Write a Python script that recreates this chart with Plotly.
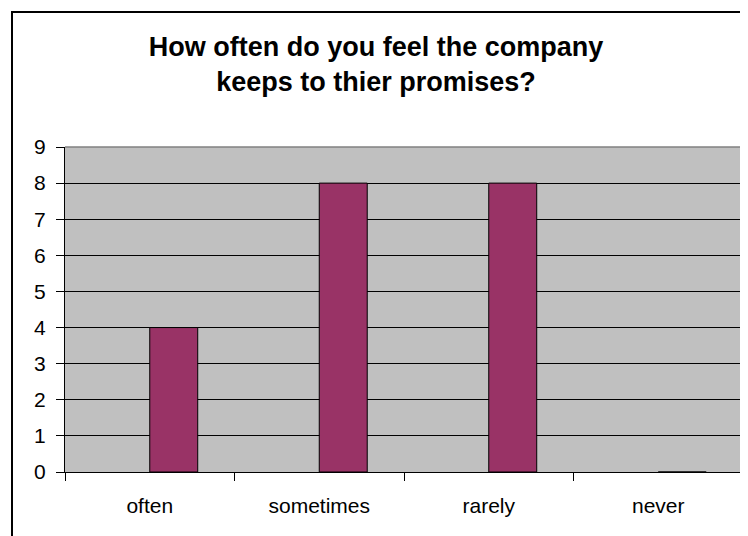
import plotly.graph_objects as go

categories = ["often", "sometimes", "rarely", "never"]
values = [4, 8, 8, 0]
y_ticks = list(range(0, 10))

# page body adds an 8px offset; figure sized to the visible area
OFF = 8
W, H = 748 - OFF, 536 - OFF
L, T = 65 - OFF, 147 - OFF
R = W - (743 - OFF)
B = H - (472 - OFF)
pw, ph = W - L - R, H - T - B

fig = go.Figure(go.Bar(
    x=categories, y=values,
    marker=dict(color="#993366", line=dict(color="black", width=1)),
    width=0.283, offset=0,
))

font = "Liberation Sans, Arial, sans-serif"
fig.update_layout(
    width=W, height=H,
    margin=dict(l=L, r=R, t=T, b=B),
    paper_bgcolor="white", plot_bgcolor="#C0C0C0",
    showlegend=False,
    title=dict(
        text="<b>How often do you feel the company<br>keeps to thier promises?</b>",
        font=dict(family=font, size=27, color="black"),
        x=(376 - OFF) / W, xanchor="center", xref="container",
        y=1 - 48 / H, yanchor="top", yref="container",
    ),
    xaxis=dict(
        type="category", tickson="boundaries", ticks="outside", ticklen=8,
        tickcolor="black", showline=True, linecolor="black", linewidth=1,
        showgrid=False, tickfont=dict(family=font, size=21, color="black"),
        ticklabelstandoff=15,
    ),
    yaxis=dict(
        range=[0, 9], tickvals=y_ticks, ticks="outside", ticklen=8,
        tickcolor="black", showline=True, linecolor="black", linewidth=1,
        showgrid=True, gridcolor="black", gridwidth=1, zeroline=False,
        tickfont=dict(family=font, size=21, color="black"),
        ticklabelstandoff=6,
    ),
    shapes=[
        dict(type="line", xref="paper", yref="paper", x0=0, x1=1, y0=1, y1=1,
             line=dict(color="#808080", width=1.5), layer="above"),
        dict(type="line", xref="paper", yref="paper", x0=1, x1=1, y0=0, y1=1,
             line=dict(color="#808080", width=1.5), layer="above"),
        dict(type="rect", xref="paper", yref="paper",
             x0=(12 - 65) / pw, x1=1.2, y0=-0.5, y1=(472 - 12) / ph,
             line=dict(color="black", width=2), fillcolor="rgba(0,0,0,0)"),
    ],
)

fig.write_html("out.html")
